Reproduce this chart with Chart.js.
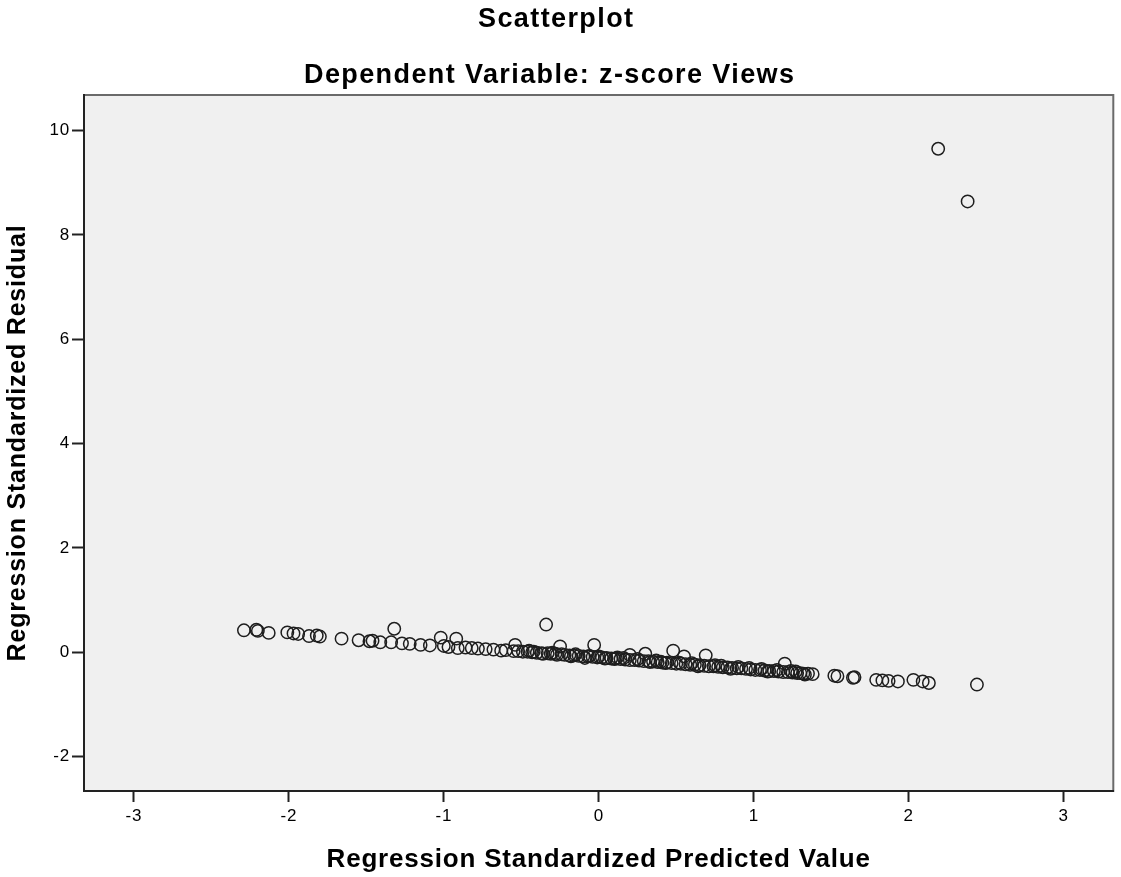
<!DOCTYPE html>
<html>
<head>
<meta charset="utf-8">
<script src="https://cdn.jsdelivr.net/npm/chart.js@4/dist/chart.umd.min.js"></script>
<style>
html,body{margin:0;padding:0;background:#ffffff;}
#wrap{width:1121px;height:877px;position:relative;}
</style>
</head>
<body>
<div id="wrap"><canvas id="c" width="1121" height="877"></canvas></div>
<script>
const chartTitle = 'Scatterplot';
const chartSubtitle = 'Dependent Variable: z-score Views';
const xAxisTitle = 'Regression Standardized Predicted Value';
const yAxisTitle = 'Regression Standardized Residual';
const xTicks = [-3, -2, -1, 0, 1, 2, 3];
const yTicks = [-2, 0, 2, 4, 6, 8, 10];

const predicted = [
  -2.29, -2.21, -2.20, -2.13, -2.01, -1.97, -1.94, -1.87, -1.82, -1.80,
  -1.66, -1.55, -1.48, -1.46, -1.41, -1.34, -1.32, -1.27, -1.22, -1.15,
  -1.09, -1.02, -1.00, -0.97, -0.92, -0.91, -0.86, -0.82, -0.78, -0.73,
  -0.68, -0.63, -0.60, -0.55, -0.54,
  -0.52, -0.49, -0.46, -0.45, -0.43, -0.40, -0.37, -0.34, -0.33, -0.31,
  -0.30, -0.28, -0.25, -0.24, -0.22, -0.19, -0.16, -0.15, -0.13, -0.10,
  -0.07, -0.03, -0.04, -0.01, 0.00, 0.02, 0.05, 0.08, 0.11, 0.12,
  0.14, 0.17, 0.20, 0.20, 0.23, 0.25, 0.26, 0.29, 0.30, 0.32,
  0.35, 0.38, 0.40, 0.41, 0.44, 0.47, 0.48, 0.50, 0.53, 0.55,
  0.56, 0.59, 0.60, 0.62, 0.65, 0.68, 0.69, 0.71, 0.74, 0.75,
  0.77, 0.80, 0.83, 0.86, 0.89, 0.90, 0.92, 0.95, 0.98, 1.01,
  1.04, 1.05, 1.07, 1.10, 1.13, 1.15, 1.16, 1.19, 1.20, 1.22,
  1.25, 1.27, 1.28, 1.30, 1.32, 1.35, 1.38,
  -0.42, -0.36, -0.27, -0.18, -0.09, -0.06, 0.04, 0.10, 0.16, 0.33,
  0.37, 0.43, 0.52, 0.64, 0.79, 0.85, 0.97, 1.09, 1.24, 1.33,
  1.52, 1.54, 1.64, 1.65, 1.79, 1.83, 1.87, 1.93, 2.03, 2.09,
  2.13, 2.44, 2.19, 2.38
];
const residual = [
  0.42, 0.43, 0.41, 0.37, 0.38, 0.36, 0.35, 0.31, 0.32, 0.30,
  0.26, 0.23, 0.21, 0.22, 0.19, 0.19, 0.45, 0.17, 0.16, 0.14,
  0.13, 0.28, 0.12, 0.10, 0.26, 0.08, 0.09, 0.08, 0.07, 0.06,
  0.05, 0.03, 0.04, 0.02, 0.14,
  0.02, 0.01, 0.01, 0.03, 0.00, -0.01, -0.02, 0.53, -0.02, -0.03,
  -0.01, -0.03, 0.11, -0.04, -0.05, -0.06, -0.06, -0.04, -0.07, -0.08,
  -0.08, 0.14, -0.09, -0.10, -0.08, -0.10, -0.11, -0.12, -0.12, -0.10,
  -0.13, -0.14, -0.05, -0.15, -0.15, -0.13, -0.16, -0.17, -0.03, -0.17,
  -0.18, -0.19, -0.18, -0.20, -0.20, -0.21, 0.03, -0.22, -0.22, -0.08,
  -0.23, -0.24, -0.21, -0.24, -0.25, -0.26, -0.06, -0.27, -0.27, -0.25,
  -0.28, -0.29, -0.29, -0.30, -0.31, -0.28, -0.31, -0.32, -0.33, -0.34,
  -0.34, -0.32, -0.35, -0.36, -0.36, -0.34, -0.37, -0.38, -0.22, -0.38,
  -0.39, -0.37, -0.40, -0.40, -0.41, -0.41, -0.42,
  0.01, -0.03, -0.05, -0.08, -0.11, -0.07, -0.12, -0.13, -0.11, -0.19,
  -0.16, -0.21, -0.20, -0.27, -0.26, -0.32, -0.30, -0.37, -0.36, -0.43,
  -0.45, -0.46, -0.49, -0.48, -0.53, -0.54, -0.55, -0.56, -0.53, -0.56,
  -0.59, -0.62, 9.65, 8.64
];

const points = predicted.map((x, i) => ({ x: x, y: residual[i] }));

const frame = {
  id: 'frame',
  beforeDraw(chart) {
    const { ctx, chartArea: a } = chart;
    ctx.save();
    ctx.fillStyle = '#f0f0f0';
    ctx.fillRect(a.left, a.top, a.right - a.left, a.bottom - a.top);
    ctx.strokeStyle = '#6a6a6a';
    ctx.lineWidth = 2;
    ctx.strokeRect(a.left, a.top, a.right - a.left, a.bottom - a.top);
    ctx.restore();
    ctx.letterSpacing = '0.8px';
  },
  afterDraw(chart) {
    const ctx = chart.ctx;
    ctx.save();
    ctx.fillStyle = '#000000';
    ctx.font = 'bold 27px "Liberation Sans", Arial, sans-serif';
    ctx.letterSpacing = '1.4px';
    ctx.textAlign = 'left';
    ctx.textBaseline = 'alphabetic';
    ctx.fillText(chartTitle, 478, 26.5);
    ctx.fillText(chartSubtitle, 304, 83);
    ctx.restore();
  }
};

new Chart(document.getElementById('c'), {
  type: 'scatter',
  data: {
    datasets: [{
      label: 'Residuals',
      data: points,
      pointStyle: 'circle',
      pointRadius: 6.2,
      pointHoverRadius: 6.2,
      borderWidth: 1.5,
      borderColor: '#1e1e1e',
      backgroundColor: 'rgba(0,0,0,0)'
    }]
  },
  options: {
    responsive: false,
    animation: false,
    devicePixelRatio: 1,
    layout: { padding: { top: 95, right: 4, left: 0, bottom: 0 } },
    plugins: {
      legend: { display: false },
      tooltip: { enabled: false }
    },
    scales: {
      x: {
        type: 'linear',
        min: -3.322,
        max: 3.32,
        afterFit(s) { s.height = 86; },
        afterBuildTicks(s) { s.ticks = xTicks.map(v => ({ value: v })); },
        grid: { drawOnChartArea: false, drawTicks: true, tickLength: 11, tickWidth: 2, tickColor: '#222222' },
        border: { display: true, color: '#222222', width: 2 },
        ticks: {
          color: '#000000',
          padding: 4,
          font: { family: '"Liberation Sans", Arial, sans-serif', size: 17 },
          callback: v => String(v)
        },
        title: {
          display: true,
          text: xAxisTitle,
          color: '#000000',
          font: { family: '"Liberation Sans", Arial, sans-serif', size: 26, weight: 'bold' },
          padding: { top: 0, bottom: 1.4 }
        }
      },
      y: {
        type: 'linear',
        min: -2.66,
        max: 10.68,
        afterFit(s) { s.width = 84; },
        afterBuildTicks(s) { s.ticks = yTicks.map(v => ({ value: v })); },
        grid: { drawOnChartArea: false, drawTicks: true, tickLength: 12, tickWidth: 2, tickColor: '#222222' },
        border: { display: true, color: '#222222', width: 2 },
        ticks: {
          color: '#000000',
          padding: 2,
          font: { family: '"Liberation Sans", Arial, sans-serif', size: 17 },
          callback: v => String(v)
        },
        title: {
          display: true,
          text: yAxisTitle,
          color: '#000000',
          font: { family: '"Liberation Sans", Arial, sans-serif', size: 25, weight: 'bold' },
          padding: { top: 3, bottom: 0 }
        }
      }
    }
  },
  plugins: [frame]
});
</script>
</body>
</html>
